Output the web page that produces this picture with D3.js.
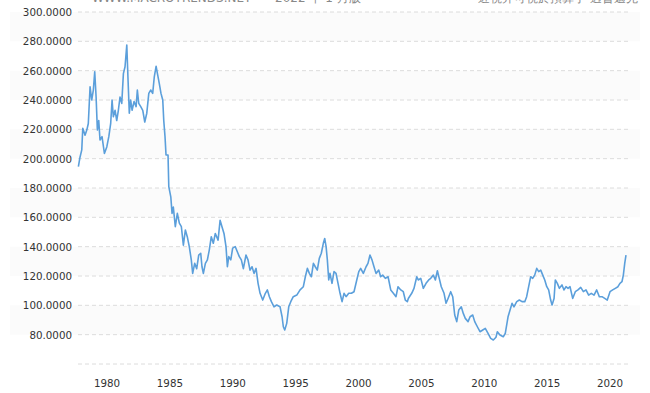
<!DOCTYPE html>
<html>
<head>
<meta charset="utf-8">
<script src="https://cdn.jsdelivr.net/npm/d3@7"></script>
<style>
  body { margin: 0; background: #fff; }
  svg { display: block; font-family: "DejaVu Sans", Verdana, sans-serif; }
</style>
</head>
<body>
<svg id="chart" width="650" height="393"></svg>
<script>
// dates as decimal years
var years = [
  1977.72, 1977.85, 1977.99, 1978.07, 1978.25, 1978.39, 1978.51, 1978.65, 1978.78, 1978.91,
  1979.02, 1979.13, 1979.23, 1979.34, 1979.44, 1979.60, 1979.79, 1979.98, 1980.14, 1980.29,
  1980.40, 1980.50, 1980.64, 1980.77, 1980.90, 1981.03, 1981.17, 1981.30, 1981.43, 1981.57,
  1981.67, 1981.77, 1981.88, 1981.99, 1982.15, 1982.31, 1982.41, 1982.52, 1982.68, 1982.84,
  1983.00, 1983.16, 1983.32, 1983.48, 1983.63, 1983.76, 1983.90, 1984.03, 1984.16, 1984.29,
  1984.43, 1984.51, 1984.61, 1984.69, 1984.85, 1984.91, 1985.07, 1985.17, 1985.27, 1985.43,
  1985.59, 1985.75, 1985.91, 1986.07, 1986.23, 1986.38, 1986.54, 1986.70, 1986.81, 1986.97,
  1987.13, 1987.29, 1987.45, 1987.55, 1987.66, 1987.82, 1987.98, 1988.13, 1988.29, 1988.45,
  1988.61, 1988.83, 1988.99, 1989.14, 1989.30, 1989.46, 1989.57, 1989.68, 1989.84, 1989.99,
  1990.20, 1990.36, 1990.52, 1990.68, 1990.84, 1991.05, 1991.21, 1991.37, 1991.53, 1991.69,
  1991.85, 1992.01, 1992.17, 1992.38, 1992.59, 1992.75, 1992.91, 1993.07, 1993.28, 1993.49,
  1993.76, 1993.92, 1994.02, 1994.13, 1994.29, 1994.45, 1994.61, 1994.81, 1995.09, 1995.35,
  1995.61, 1995.77, 1995.93, 1996.09, 1996.25, 1996.41, 1996.56, 1996.72, 1996.88, 1997.04,
  1997.20, 1997.31, 1997.42, 1997.52, 1997.63, 1997.73, 1997.89, 1998.05, 1998.21, 1998.37,
  1998.53, 1998.69, 1998.85, 1999.01, 1999.22, 1999.43, 1999.64, 1999.86, 2000.02, 2000.17,
  2000.38, 2000.60, 2000.75, 2000.91, 2001.07, 2001.23, 2001.39, 2001.61, 2001.76, 2001.92,
  2002.13, 2002.35, 2002.56, 2002.77, 2002.98, 2003.14, 2003.36, 2003.56, 2003.72, 2003.88,
  2003.96, 2004.23, 2004.41, 2004.63, 2004.75, 2004.95, 2005.15, 2005.37, 2005.58, 2005.74,
  2005.95, 2006.11, 2006.27, 2006.42, 2006.58, 2006.80, 2006.96, 2007.12, 2007.33, 2007.49,
  2007.65, 2007.81, 2007.97, 2008.17, 2008.33, 2008.49, 2008.71, 2008.87, 2009.08, 2009.24,
  2009.45, 2009.66, 2009.88, 2010.08, 2010.30, 2010.51, 2010.72, 2010.93, 2011.04, 2011.25,
  2011.51, 2011.67, 2011.89, 2012.05, 2012.21, 2012.36, 2012.58, 2012.79, 2013.00, 2013.22,
  2013.37, 2013.53, 2013.69, 2013.85, 2014.01, 2014.17, 2014.33, 2014.49, 2014.65, 2014.81,
  2014.97, 2015.12, 2015.28, 2015.39, 2015.55, 2015.65, 2015.81, 2015.97, 2016.18, 2016.34,
  2016.50, 2016.66, 2016.82, 2017.03, 2017.24, 2017.45, 2017.67, 2017.88, 2018.09, 2018.30,
  2018.51, 2018.73, 2018.94, 2019.15, 2019.36, 2019.58, 2019.78, 2020.00, 2020.21, 2020.42,
  2020.63, 2020.79, 2020.95, 2021.06, 2021.17, 2021.27
];
var values = [
  194.5, 201.0, 206.0, 220.7, 216.0, 219.5, 224.0, 249.0, 240.0, 246.8,
  259.3, 242.0, 219.5, 226.0, 212.7, 215.0, 203.6, 208.0, 215.0, 224.0,
  240.0, 228.6, 233.0, 226.0, 233.0, 242.0, 237.7, 258.0, 262.7, 277.5,
  253.6, 231.0, 240.0, 233.0, 239.0, 235.5, 246.8, 237.7, 235.5, 233.0,
  225.0, 231.0, 244.5, 246.8, 244.5, 256.0, 263.0, 257.0, 251.0, 244.5,
  240.0, 226.0, 215.0, 202.5, 202.5, 181.0, 174.0, 162.7, 167.0, 153.6,
  162.7, 156.0, 153.6, 141.0, 151.4, 146.8, 140.0, 131.0, 121.8, 128.6,
  125.0, 134.3, 135.5, 126.3, 121.8, 128.6, 131.0, 137.7, 146.8, 142.3,
  149.0, 144.5, 158.0, 153.6, 149.0, 140.0, 126.3, 133.2, 131.0, 139.0,
  140.0, 136.5, 133.2, 131.0, 125.0, 134.3, 131.0, 124.0, 126.3, 121.8,
  125.2, 115.0, 108.2, 103.6, 108.2, 110.5, 105.9, 102.5, 99.0, 100.2,
  99.0, 92.2, 85.4, 83.2, 87.7, 99.0, 102.5, 105.9, 107.0, 110.5,
  112.7, 119.5, 125.2, 121.8, 119.5, 128.6, 126.3, 124.0, 132.0, 135.5,
  142.3, 145.6, 140.0, 131.0, 117.3, 121.8, 115.0, 123.0, 121.8, 115.0,
  108.2, 102.5, 108.2, 105.9, 108.2, 108.2, 109.3, 117.3, 123.0, 125.2,
  121.8, 126.3, 128.6, 134.3, 131.0, 126.3, 121.8, 124.0, 119.5, 120.6,
  118.4, 119.5, 110.5, 108.2, 105.9, 112.7, 110.5, 109.3, 103.6, 102.5,
  104.7, 108.2, 111.6, 119.5, 117.3, 118.4, 111.6, 115.0, 117.3, 118.4,
  120.6, 117.3, 123.6, 118.4, 112.7, 108.2, 101.4, 104.7, 109.3, 105.9,
  93.4, 88.9, 96.8, 99.0, 94.5, 91.1, 88.9, 92.2, 93.4, 88.9,
  85.4, 82.0, 83.2, 84.3, 80.9, 77.5, 76.4, 78.2, 82.0, 79.8,
  78.6, 80.9, 92.2, 96.8, 101.4, 99.0, 102.5, 103.6, 102.5, 102.5,
  105.9, 112.7, 119.5, 118.4, 120.6, 125.2, 123.0, 124.0, 120.6, 117.3,
  112.7, 110.5, 103.6, 100.2, 104.7, 117.3, 115.0, 111.6, 113.9, 110.5,
  112.7, 111.6, 112.7, 104.7, 109.3, 110.5, 112.2, 109.3, 110.5, 107.0,
  108.2, 107.0, 110.5, 105.9, 105.9, 104.7, 103.6, 109.3, 110.5, 111.6,
  112.7, 115.0, 116.1, 120.6, 128.6, 134.3
];
var yearTicks = [1980, 1985, 1990, 1995, 2000, 2005, 2010, 2015, 2020];
var valueTicks = [60, 80, 100, 120, 140, 160, 180, 200, 220, 240, 260, 280, 300];

var data = years.map(function(d, i) { return {year: d, value: values[i]}; });

var svg = d3.select("#chart");

var x = d3.scaleLinear()
    .domain([1977.69, 2021.43])
    .range([78, 628]);

var y = d3.scaleLinear()
    .domain([60, 300])
    .range([364, 12]);

// faint alternating bands behind the grid
svg.append("g")
  .selectAll("rect")
  .data(valueTicks.slice(0, -1).filter(function(d, i) { return i % 2 === 1; }))
  .enter().append("rect")
    .attr("x", 10)
    .attr("width", 630)
    .attr("y", function(d) { return y(d + 20); })
    .attr("height", function(d) { return y(d) - y(d + 20); })
    .attr("fill", "#fbfbfb");

// watermark text, mostly cut off at the top edge
var header = svg.append("g")
    .attr("font-size", "12px")
    .attr("fill", "#888");
header.append("text").attr("x", 92).attr("y", 2).text("WWW.MACROTRENDS.NET");
header.append("text").attr("x", 275).attr("y", 2).text("2022 年 1 月版");
header.append("text").attr("x", 478).attr("y", 2).text("近視并可視於預算于  過普遍先");

// gridlines
svg.append("g")
  .selectAll("line")
  .data(valueTicks)
  .enter().append("line")
    .attr("x1", 78)
    .attr("x2", 628)
    .attr("y1", function(d) { return y(d); })
    .attr("y2", function(d) { return y(d); })
    .attr("stroke", "#dcdcdc")
    .attr("stroke-dasharray", "4,3");

// y axis labels
svg.append("g")
  .selectAll("text")
  .data(valueTicks.slice(1))
  .enter().append("text")
    .attr("x", 72)
    .attr("y", function(d) { return y(d) + 4; })
    .attr("text-anchor", "end")
    .attr("font-size", "10.3px")
    .attr("fill", "#333")
    .text(function(d) { return d3.format(".4f")(d); });

// x axis labels
svg.append("g")
  .selectAll("text")
  .data(yearTicks)
  .enter().append("text")
    .attr("x", function(d) { return x(d); })
    .attr("y", 387)
    .attr("text-anchor", "middle")
    .attr("font-size", "10.3px")
    .attr("fill", "#333")
    .text(function(d) { return d; });

var line = d3.line()
    .x(function(d) { return x(d.year); })
    .y(function(d) { return y(d.value); });

svg.append("path")
    .datum(data)
    .attr("d", line)
    .attr("fill", "none")
    .attr("stroke", "#5b9fdb")
    .attr("stroke-width", 1.6)
    .attr("stroke-linejoin", "round");
</script>
</body>
</html>
